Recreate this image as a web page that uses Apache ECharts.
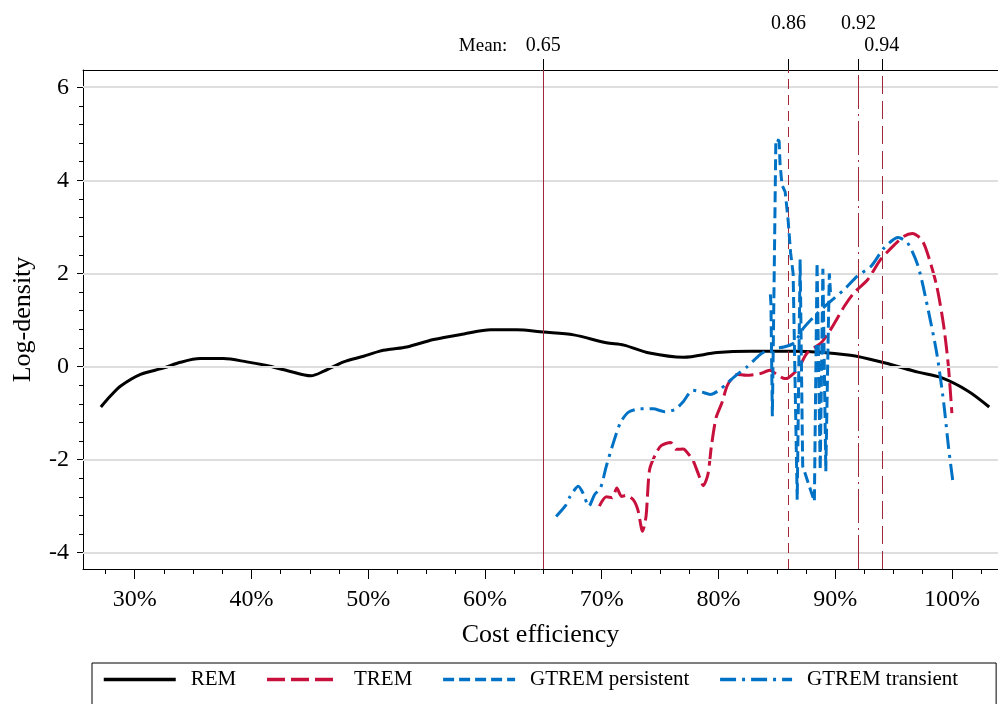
<!DOCTYPE html>
<html>
<head>
<meta charset="utf-8">
<script src="https://cdn.jsdelivr.net/npm/echarts@6/dist/echarts.min.js"></script>
<style>
html,body{margin:0;padding:0;background:#fff;}
#chart{width:998px;height:704px;}
</style>
</head>
<body>
<div id="chart"></div>
<script>
// ---- data (x in %, y = log-density) ----
const remX = [27.1, 27.9, 28.8, 30.5, 32.5, 33.9, 35.6, 37.6, 39.6, 41.3, 43.1, 45.1, 46.2, 47.9, 49.6, 51.0, 51.9, 53.3, 55.6, 58.2, 60.5, 62.7, 65.0, 67.6, 70.4, 71.9, 74.1, 77.0, 79.9, 82.7, 86.5, 91.3, 94.2, 97.1, 99.1, 101.4, 103.2];
const remY = [-0.87, -0.64, -0.42, -0.17, -0.03, 0.09, 0.17, 0.17, 0.10, 0.02, -0.09, -0.20, -0.10, 0.10, 0.22, 0.33, 0.37, 0.42, 0.58, 0.70, 0.79, 0.79, 0.74, 0.68, 0.51, 0.46, 0.29, 0.20, 0.30, 0.33, 0.33, 0.24, 0.08, -0.12, -0.24, -0.53, -0.87];

const tremX = [69.8, 70.4, 70.9, 71.3, 71.7, 72.1, 72.7, 73.1, 73.5, 73.8, 74.1, 74.6, 75.1, 75.9, 76.4, 77.0, 77.4, 77.8, 78.3, 78.7, 79.1, 79.4, 79.8, 80.3, 80.8, 81.6, 82.4, 83.6, 84.4, 85.0, 85.7, 86.0, 86.8, 87.6, 88.8, 89.7, 90.8, 91.6, 92.8, 93.9, 95.1, 95.9, 96.6, 97.4, 97.9, 98.7, 99.3, 99.7, 100.0];
const tremY = [-3.00, -2.80, -2.82, -2.61, -2.79, -2.77, -2.86, -3.08, -3.54, -3.22, -2.22, -1.89, -1.70, -1.63, -1.78, -1.77, -1.87, -2.00, -2.32, -2.56, -2.32, -1.71, -1.10, -0.78, -0.39, -0.17, -0.19, -0.15, -0.08, -0.17, -0.26, -0.24, -0.06, 0.29, 0.51, 0.83, 1.30, 1.58, 1.87, 2.30, 2.62, 2.80, 2.86, 2.73, 2.44, 1.73, 0.87, 0.01, -1.00];

const persX = [84.45, 84.5, 84.62, 84.78, 84.92, 85.2, 85.28, 85.45, 85.72, 85.97, 86.18, 86.4, 86.75, 87.0, 87.22, 88.22, 88.45, 88.72, 88.95, 89.2, 89.5, 89.6];
const persY = [1.55, 1.35, -1.07, 2.0, 4.88, 4.85, 4.35, 3.9, 3.75, 3.15, 2.45, 2.0, -2.86, 2.3, -2.14, -2.9, 2.23, -2.22, 2.1, -2.25, 2.0, 1.6];

const tranX = [66.1, 66.9, 67.3, 68.0, 68.4, 68.9, 69.4, 69.9, 70.4, 71.0, 71.6, 72.3, 73.3, 74.4, 75.4, 76.3, 77.0, 77.8, 78.6, 79.3, 80.0, 80.7, 81.6, 82.4, 83.6, 84.5, 85.6, 86.5, 87.3, 88.5, 89.6, 90.8, 91.9, 93.1, 94.2, 95.4, 96.2, 97.1, 97.9, 98.7, 99.3, 99.7, 100.1];
const tranY = [-3.22, -2.99, -2.79, -2.57, -2.72, -3.00, -2.75, -2.61, -2.14, -1.64, -1.21, -0.98, -0.91, -0.91, -0.97, -0.92, -0.75, -0.51, -0.55, -0.60, -0.52, -0.37, -0.17, -0.02, 0.26, 0.38, 0.42, 0.51, 0.83, 1.15, 1.40, 1.66, 1.94, 2.16, 2.55, 2.77, 2.66, 2.16, 1.30, 0.29, -0.78, -1.71, -2.50];

const meanValues = [65, 86, 92, 94];
const meanLabels = ['0.65', '0.86', '0.92', '0.94'];

const xMajor = [30, 40, 50, 60, 70, 80, 90, 100];
const xMinor = [27.5, 32.5, 35, 37.5, 42.5, 45, 47.5, 52.5, 55, 57.5, 62.5, 65, 67.5, 72.5, 75, 77.5, 82.5, 85, 87.5, 92.5, 95, 97.5, 102.5];
const yMajor = [-4, -2, 0, 2, 4, 6];
const yMinor = [-3.6, -3.2, -2.8, -2.4, -1.6, -1.2, -0.8, -0.4, 0.4, 0.8, 1.2, 1.6, 2.4, 2.8, 3.2, 3.6, 4.4, 4.8, 5.2, 5.6, 6.0];

const X_MIN = 25.57, X_MAX = 103.95;
const Y_MIN = -4.35, Y_MAX = 6.37;

// ---- helpers ----
const zip = (xs, ys) => xs.map((x, i) => [x, ys[i]]);
const FONT = "'Liberation Serif', 'Times New Roman', serif";
const RED = '#c8103c', BLUE = '#0072c6', MEANC = '#a02838';

const chart = echarts.init(document.getElementById('chart'), null, {renderer: 'canvas'});

const meanStyles = [
  {type: 'solid'},
  {type: [10, 6]},
  {type: [34, 5, 2, 5]},
  {type: [18, 7]}
];

const option = {
  animation: false,
  backgroundColor: '#fff',
  grid: {left: 83, top: 70, right: 0, bottom: 135, containLabel: false},
  legend: {
    data: ['REM', 'TREM', 'GTREM persistent', 'GTREM transient'],
    left: 92, top: 663, width: 900,
    orient: 'horizontal',
    padding: [6, 38, 40, 10],
    itemWidth: 72, itemHeight: 14, itemGap: 29,
    borderColor: '#000', borderWidth: 1,
    itemStyle: {opacity: 0, borderWidth: 0},
    lineStyle: {width: 3.5},
    textStyle: {fontSize: 21, fontFamily: FONT, color: '#000', padding: [0, 0, 0, 10]}
  },
  xAxis: [
    {
      type: 'value', min: X_MIN, max: X_MAX, position: 'bottom',
      axisLine: {show: true, onZero: false, lineStyle: {color: '#000', width: 1}},
      axisTick: {show: true, customValues: xMajor, length: 10, lineStyle: {color: '#000', width: 1}},
      axisLabel: {show: true, customValues: xMajor, formatter: v => v + '%', fontSize: 24, fontFamily: FONT, color: '#000', margin: 19},
      splitLine: {show: false},
      name: 'Cost efficiency', nameLocation: 'middle', nameGap: 53,
      nameTextStyle: {fontSize: 26, fontFamily: FONT, color: '#000'}
    },
    {
      type: 'value', min: X_MIN, max: X_MAX, position: 'bottom',
      axisLine: {show: false, onZero: false},
      axisTick: {show: true, customValues: xMinor, length: 5, lineStyle: {color: '#000', width: 1}},
      axisLabel: {show: false},
      splitLine: {show: false}
    },
    {
      type: 'value', min: X_MIN, max: X_MAX, position: 'top',
      axisLine: {show: true, onZero: false, lineStyle: {color: '#000', width: 1}},
      axisTick: {show: true, customValues: meanValues, length: 11, lineStyle: {color: '#000', width: 1}},
      axisLabel: {
        show: true, customValues: meanValues, margin: 14,
        fontSize: 20, fontFamily: FONT, color: '#000',
        formatter: function (v) {
          const i = meanValues.findIndex(m => Math.abs(m - v) < 1e-6);
          const t = i >= 0 ? meanLabels[i] : '';
          if (i === 0) return '{m|Mean:}{v|' + t + '}{p| }';
          if (i === 1 || i === 2) return '{hi|' + t + '}';
          return '{v|' + t + '}';
        },
        rich: {
          m: {fontSize: 19, fontFamily: FONT, color: '#000', width: 67, align: 'left'},
          v: {fontSize: 20, fontFamily: FONT, color: '#000'},
          p: {fontSize: 19, fontFamily: FONT, width: 67},
          hi: {fontSize: 20, fontFamily: FONT, color: '#000', padding: [0, 0, 22, 0]}
        }
      },
      splitLine: {show: false}
    }
  ],
  yAxis: [
    {
      type: 'value', min: Y_MIN, max: Y_MAX, position: 'left',
      axisLine: {show: true, onZero: false, lineStyle: {color: '#000', width: 1}},
      axisTick: {show: true, customValues: yMajor, length: 6, lineStyle: {color: '#000', width: 1}},
      axisLabel: {show: true, customValues: yMajor, fontSize: 24, fontFamily: FONT, color: '#000', margin: 14},
      splitLine: {show: false},
      name: 'Log-density', nameLocation: 'middle', nameGap: 47, nameRotate: 90,
      nameTextStyle: {fontSize: 26, fontFamily: FONT, color: '#000'}
    },
    {
      type: 'value', min: Y_MIN, max: Y_MAX, position: 'left',
      axisLine: {show: false, onZero: false},
      axisTick: {show: true, customValues: yMinor, length: 4, lineStyle: {color: '#000', width: 1}},
      axisLabel: {show: false},
      splitLine: {show: false}
    }
  ],
  series: [
    {
      name: '_grid', type: 'line', data: [], z: 1, silent: true,
      markLine: {
        silent: true, symbol: ['none', 'none'], label: {show: false},
        lineStyle: {color: '#dedede', width: 2, type: 'solid'},
        data: yMajor.map(v => ({yAxis: v}))
      }
    },
    {
      name: '_means', type: 'line', data: [], z: 2, silent: true,
      markLine: {
        silent: true, symbol: ['none', 'none'], label: {show: false},
        data: meanValues.map((v, i) => ({xAxis: v, lineStyle: Object.assign({color: MEANC, width: 1}, meanStyles[i])}))
      }
    },
    {
      name: 'REM', type: 'line', data: zip(remX, remY), symbol: 'none', smooth: 0.3, z: 3,
      lineStyle: {color: '#000', width: 3, type: 'solid'}, itemStyle: {color: '#000'}
    },
    {
      name: 'TREM', type: 'line', data: zip(tremX, tremY), symbol: 'none', smooth: 0.25, z: 4,
      lineStyle: {color: RED, width: 3, type: [18, 6]}, itemStyle: {color: RED}
    },
    {
      name: 'GTREM persistent', type: 'line', data: zip(persX, persY), symbol: 'none', smooth: false, z: 5,
      lineStyle: {color: BLUE, width: 3, type: [11, 5]}, itemStyle: {color: BLUE}
    },
    {
      name: 'GTREM transient', type: 'line', data: zip(tranX, tranY), symbol: 'none', smooth: 0.25, z: 6,
      lineStyle: {color: BLUE, width: 3, type: [16, 6, 3, 6]}, itemStyle: {color: BLUE}
    }
  ]
};
chart.setOption(option);
</script>
</body>
</html>
